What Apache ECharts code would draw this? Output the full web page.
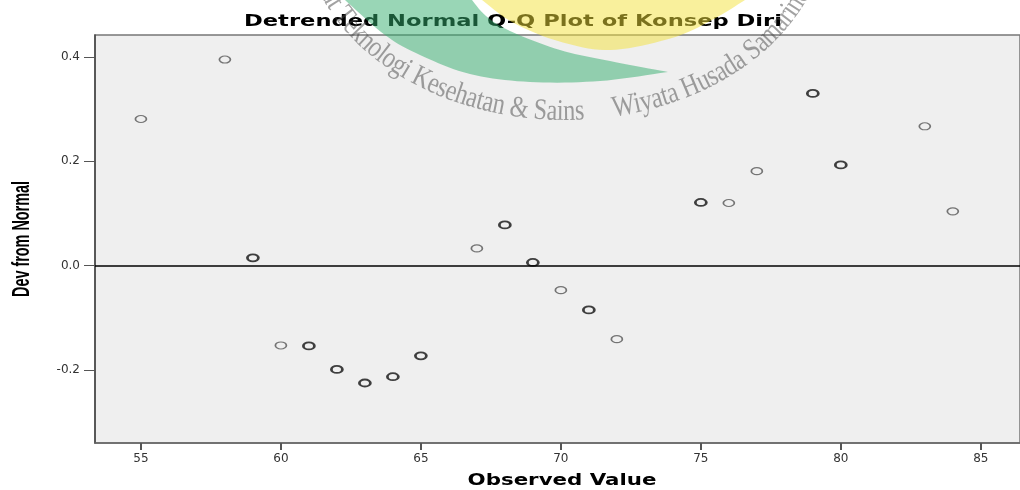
<!DOCTYPE html>
<html>
<head>
<meta charset="utf-8">
<script src="https://cdn.jsdelivr.net/npm/echarts@6/dist/echarts.min.js"></script>
<style>
  html, body { margin: 0; padding: 0; background: #fff; }
  #chart { width: 1020px; height: 490px; }
</style>
</head>
<body>
<div id="chart"></div>
<script>
// observed values seen once (thin circles)
const observedSingle = [55, 58, 60, 67, 70, 72, 76, 77, 83, 84]
const devSingle = [0.281, 0.395, -0.153, 0.033, -0.047, -0.141, 0.120, 0.181, 0.267, 0.104]

// observed values seen more than once (heavier circles)
const observedRepeated = [59, 61, 62, 63, 64, 65, 68, 69, 71, 75, 79, 80]
const devRepeated = [0.015, -0.154, -0.199, -0.225, -0.213, -0.173, 0.078, 0.006, -0.085, 0.121, 0.330, 0.193]

const xTicks = [55, 60, 65, 70, 75, 80, 85]
const yTicks = [-0.2, 0, 0.2, 0.4]

const titleText = 'Detrended Normal Q-Q Plot of Konsep Diri'
const xName = 'Observed Value'
const yName = 'Dev from Normal'
const wmLeft = 'Institut Teknologi Kesehatan & Sains'
const wmRight = 'Wiyata Husada Samarinda'

const ctx = document.createElement('canvas').getContext('2d')
const measure = (text, font) => {
  ctx.font = font
  return ctx.measureText(text).width
}

const ELLIPSE = 'path://M0,4A6,4 0 1,1 12,4A6,4 0 1,1 0,4Z'

const toPairs = (xs, ys) => xs.map((x, i) => [x, ys[i]])

// stretched text, the source picture was widened
const titleFont = 'bold 16px "DejaVu Sans"'
const xNameFont = 'bold 15px "DejaVu Sans"'
const yNameFont = 'bold 14px "Liberation Sans"'

// smooth closed outline through a few points (catmull-rom)
const smooth = (pts, n = 10) => {
  const out = []
  for (let i = 0; i < pts.length - 1; i++) {
    const p0 = pts[Math.max(i - 1, 0)]
    const p1 = pts[i]
    const p2 = pts[i + 1]
    const p3 = pts[Math.min(i + 2, pts.length - 1)]
    for (let k = 0; k < n; k++) {
      const t = k / n
      const t2 = t * t
      const t3 = t2 * t
      out.push([0, 1].map(j => 0.5 * (2 * p1[j] + (-p0[j] + p2[j]) * t +
        (2 * p0[j] - 5 * p1[j] + 4 * p2[j] - p3[j]) * t2 +
        (-p0[j] + 3 * p1[j] - 3 * p2[j] + p3[j]) * t3)))
    }
  }
  out.push(pts[pts.length - 1])
  return out
}
const greenBand = [
  ...smooth([[345, 0], [385, 35], [420, 55], [470, 74], [530, 82], [600, 81], [668, 72]]),
  ...smooth([[668, 72], [610, 61], [560, 50], [510, 31], [486, 16], [472, 0]]),
]
const yellowBand = [
  ...smooth([[482, 0], [512, 22], [558, 41], [610, 50], [672, 38], [712, 20], [745, 0]]),
]

// watermark text along an ellipse
const wmFont = '30px "Liberation Serif"'
const wm = { cx: 565, cy: -78, rx: 270, ry: 205, squeeze: 0.81 }
const speed = t => Math.hypot(wm.rx * Math.cos(t), wm.ry * Math.sin(t))
const charEl = (ch, t) => ({
  type: 'text',
  x: wm.cx + wm.rx * Math.sin(t),
  y: wm.cy + wm.ry * Math.cos(t),
  rotation: Math.atan2(wm.ry * Math.sin(t), wm.rx * Math.cos(t)),
  scaleX: wm.squeeze,
  z: 101,
  silent: true,
  style: { text: ch, font: wmFont, fill: 'rgba(70,70,70,0.5)', align: 'center', verticalAlign: 'bottom', textAlign: 'center', textVerticalAlign: 'bottom' },
})
const buildWatermark = () => {
  const els = []
  const gapT = 0.13
  const halfGap = 15
  let t = gapT - halfGap / speed(gapT)
  for (let i = wmLeft.length - 1; i >= 0; i--) {
    const w = measure(wmLeft[i], wmFont) * wm.squeeze
    t -= (w / 2) / speed(t)
    els.push(charEl(wmLeft[i], t))
    t -= (w / 2) / speed(t)
  }
  t = gapT + halfGap / speed(gapT)
  for (let i = 0; i < wmRight.length; i++) {
    const w = measure(wmRight[i], wmFont) * wm.squeeze
    t += (w / 2) / speed(t)
    els.push(charEl(wmRight[i], t))
    t += (w / 2) / speed(t)
  }
  return els
}

const chart = echarts.init(document.getElementById('chart'), null, { renderer: 'canvas' })

const option = {
  animation: false,
  backgroundColor: '#fff',
  grid: {
    left: 95,
    top: 35,
    right: -4,
    bottom: 47,
    show: true,
    backgroundColor: '#efefef',
    borderColor: '#777',
    borderWidth: 1.5,
  },
  xAxis: {
    type: 'value',
    min: 53.36,
    max: 86.40,
    axisLine: { show: true, onZero: false, lineStyle: { color: '#666', width: 1.5 } },
    axisTick: { show: true, customValues: xTicks, length: 7, lineStyle: { color: '#555', width: 2 } },
    axisLabel: {
      customValues: xTicks,
      margin: 10,
      color: '#333',
      fontSize: 12,
      fontFamily: 'DejaVu Sans',
    },
    splitLine: { show: false },
  },
  yAxis: {
    type: 'value',
    min: -0.34,
    max: 0.442,
    axisLine: { show: true, onZero: false, lineStyle: { color: '#444', width: 1.5 } },
    axisTick: { show: true, customValues: yTicks, length: 11, lineStyle: { color: '#555', width: 1 } },
    axisLabel: {
      customValues: yTicks,
      margin: 15,
      color: '#333',
      fontSize: 12,
      fontFamily: 'DejaVu Sans',
      formatter: v => v.toFixed(1),
    },
    splitLine: { show: false },
  },
  series: [
    {
      name: 'single',
      type: 'scatter',
      data: toPairs(observedSingle, devSingle),
      symbol: ELLIPSE,
      symbolSize: [11, 7],
      itemStyle: { color: 'rgba(0,0,0,0)', borderColor: '#555', borderWidth: 1.4 },
      markLine: {
        silent: true,
        symbol: 'none',
        label: { show: false },
        lineStyle: { color: '#000', width: 1.5, type: 'solid' },
        data: [{ yAxis: 0 }],
      },
    },
    {
      name: 'repeated',
      type: 'scatter',
      data: toPairs(observedRepeated, devRepeated),
      symbol: ELLIPSE,
      symbolSize: [11, 7],
      itemStyle: { color: 'rgba(0,0,0,0)', borderColor: '#111', borderWidth: 2.2 },
    },
  ],
  graphic: [
    {
      type: 'text',
      x: 513,
      y: 22,
      scaleX: 538 / measure(titleText, titleFont),
      z: 10,
      style: { text: titleText, font: titleFont, fill: '#000', align: 'center', verticalAlign: 'middle', textAlign: 'center', textVerticalAlign: 'middle' },
    },
    {
      type: 'text',
      x: 562,
      y: 481,
      scaleX: 189 / measure(xName, xNameFont),
      z: 10,
      style: { text: xName, font: xNameFont, fill: '#000', align: 'center', verticalAlign: 'middle', textAlign: 'center', textVerticalAlign: 'middle' },
    },
    {
      type: 'text',
      x: 22,
      y: 239,
      rotation: Math.PI / 2,
      scaleX: 116 / measure(yName, yNameFont),
      scaleY: 1.7,
      z: 10,
      style: { text: yName, font: yNameFont, fill: '#000', align: 'center', verticalAlign: 'middle', textAlign: 'center', textVerticalAlign: 'middle' },
    },
    // logo watermark, drawn on top like the source
    {
      type: 'polygon',
      z: 100,
      silent: true,
      shape: { points: greenBand },
      style: { fill: 'rgba(51,173,109,0.5)' },
    },
    {
      type: 'polygon',
      z: 100,
      silent: true,
      shape: { points: yellowBand },
      style: { fill: 'rgba(243,225,57,0.5)' },
    },
    ...buildWatermark(),
  ],
}

chart.setOption(option)
</script>
</body>
</html>
